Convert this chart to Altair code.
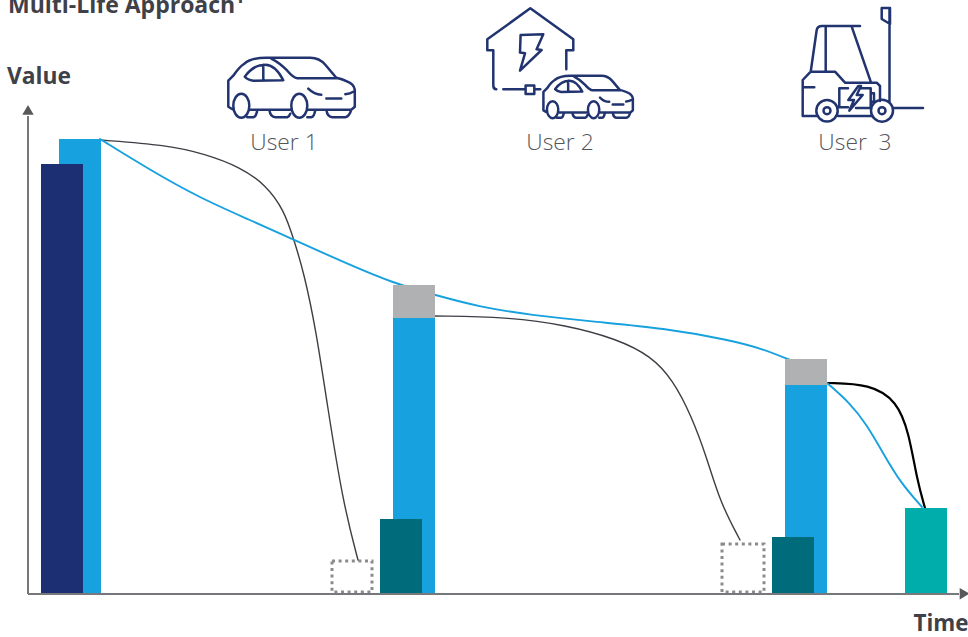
import altair as alt
import pandas as pd

W, H = 968, 637

# Bars: left, right, top and bottom edges on the chart's value/time scales
bar_names = ["new", "start", "user2 total", "user2 top", "user2 residual",
             "user3 total", "user3 top", "user3 residual", "end of life"]
bar_x0 = [59, 41, 393, 393, 380, 785, 785, 772, 905]
bar_x1 = [101, 83, 435, 435, 422, 827, 827, 814, 947]
bar_y0 = [139, 164, 318, 285, 519, 385, 359, 537, 508]
bar_y1 = [594, 594, 594, 318, 594, 594, 385, 594, 594]
bar_fill = ["#17a1de", "#1c2f72", "#17a1de", "#b0b1b3", "#006b7a",
            "#17a1de", "#b0b1b3", "#006b7a", "#00adab"]

# Dotted placeholder boxes
box_x0 = [332, 722]
box_x1 = [372, 764]
box_y0 = [561, 544]
box_y1 = [592, 592]

# Multi-life value curve
blue_x = [100, 150, 200, 250, 292, 350, 393, 435, 480, 530, 597, 663, 730, 763, 790]
blue_y = [139, 170, 198, 220, 239, 265, 283, 295, 307, 315, 322, 328, 340, 349, 360]
blue_end_x = [827, 850, 867, 883, 900, 922]
blue_end_y = [383, 403, 425, 453, 482, 507]

# Single-use value curves
first_x = [100, 167, 205, 240, 266, 284, 294, 304, 316, 327, 343, 358]
first_y = [140, 145, 154, 167, 185, 210, 240, 273, 330, 403, 503, 560]
second_x = [435, 507, 566, 617, 651, 673, 691, 707, 720, 740]
second_y = [316, 317, 325, 339, 356, 380, 415, 458, 502, 540]
third_x = [827, 870, 897, 909, 917, 925]
third_y = [383, 384, 401, 433, 480, 508]

# Text labels
label_text = ["Multi-Life Approach¹", "Value", "Time"]
label_x = [8, 7, 913.5]
label_y = [13, 84, 631]
label_size = [23, 22.8, 22.4]
user_text = ["User 1", "User 2", "User\u00a0\u00a03"]
user_x = [284, 560, 855]
user_y = [150, 150, 150]

# Outline glyphs, drawn as symbol paths in a local unit system
CAR = (
    "M6 53 L1 50 L1 24 L6 19 Q12 10 17 7 Q24 1 39 1 L83 1 Q92 1 98 8 L109 21 "
    "Q121 24 125 28 Q127 30 127.5 33 L127.5 50 L124 53 "
    "M22 53 L63 53 M81 53 L124 53 "
    "M6 49 A8 12 0 1 0 22 49 A8 12 0 1 0 6 49 Z "
    "M64 49 A8 12 0 1 0 80 49 A8 12 0 1 0 64 49 Z "
    "M20 60.5 L26 60.5 Q29 60 30 53 "
    "M42 53 Q43 60.5 48 60.5 L60 60.5 Q62 60 63 57 "
    "M80 60.5 L84 60.5 Q87 60 88 53 "
    "M99 53 Q100 60.5 105 60.5 L118 60.5 Q122 60 124 53 "
    "M17.5 20 Q26 8 38 8 Q48 8 56 23.5 L26 24 Q20 23 17.5 20 Z M36 8 L36 24 "
    "M44 2 Q52 6 60 14 Q66 21 70 21.5 L109 21.5 "
    "M81 32 Q87 38 94 38 M99 41.7 L114 41.7 M118 37.5 Q123 37 126 35"
)
HOUSE = (
    "M0 42 L0 31 L43 0 L86 31 L86 42 L79 42 L79 61 "
    "M0 42 L6 42 L6 77 Q6 81 9 81 M16 81 L38 81 "
    "M38.3 77.3 H47 V85.7 H38.3 Z M47 81 L53 81 "
    "M33.3 26.7 L56 26 L49.3 41 L54.3 41.7 L32.7 62.3 L37.7 45 L32.7 44.3 Z"
)
FORKLIFT = (
    "M101.7 8 H110 V24 L101.7 19 Z M109.5 8 V103 M113 108 H143 "
    "M30.7 71.7 L36.7 30 Q37.5 26 42 26 L80 26 M45.7 26 V71.7 M71.7 26.7 L90.7 81.7 "
    "M22.7 116 V80 L30.7 71.7 H55 L65 82.7 H96.7 L100 86 V101 "
    "M22.7 116 H36 M58.3 116 H91.7 M22.7 87.3 H34.3 "
    "M36.3 110.7 A10.7 10.7 0 1 0 57.7 110.7 A10.7 10.7 0 1 0 36.3 110.7 Z "
    "M43.5 110.7 A3.5 3.5 0 1 0 50.5 110.7 A3.5 3.5 0 1 0 43.5 110.7 Z "
    "M91 110.7 A11 11 0 1 0 113 110.7 A11 11 0 1 0 91 110.7 Z "
    "M98.5 110.7 A3.5 3.5 0 1 0 105.5 110.7 A3.5 3.5 0 1 0 98.5 110.7 Z "
    "M68 88.3 H59.3 V107.3 H68 M81.7 88.3 H90.7 V108 H76 M90.7 93.3 H94 V101.7 H90.7 "
    "M78.3 86 L68.3 100 L74 100 L69.3 110.7 L82.7 95 L76.7 95 L81 86 Z"
)
icon_path = [CAR, HOUSE, CAR, FORKLIFT]
icon_x = [227.3, 487.3, 542.7, 780]
icon_y = [56.7, 8.3, 75, 0]
icon_size = [4, 4, 2, 4]

x_scale = alt.Scale(domain=[0, W], nice=False, zero=False)
y_scale = alt.Scale(domain=[H, 0], nice=False, zero=False)
X = alt.X("x:Q", scale=x_scale, axis=None)
Y = alt.Y("y:Q", scale=y_scale, axis=None)


def curve(xs, ys, color, width):
    frame = pd.DataFrame({"x": xs, "y": ys})
    return alt.Chart(frame).mark_line(
        color=color, strokeWidth=width, interpolate="basis", strokeCap="round"
    ).encode(x=X, y=Y)


# Axis shafts and arrow heads
x_axis = alt.Chart(pd.DataFrame({"x": [28], "x2": [959], "y": [594]})).mark_rule(
    color="#77787b", strokeWidth=2
).encode(x=X, x2="x2:Q", y=Y)
y_axis = alt.Chart(pd.DataFrame({"x": [28], "y": [594], "y2": [116]})).mark_rule(
    color="#77787b", strokeWidth=2
).encode(x=X, y=Y, y2="y2:Q")
arrow_frame = pd.DataFrame({"x": [963, 28], "y": [593.7, 111.5],
                            "angle": [90, 0]})
arrows = alt.Chart(arrow_frame).mark_point(
    shape="triangle", filled=True, color="#58595b", opacity=1, size=130
).encode(x=X, y=Y, angle=alt.Angle("angle:Q", scale=None))

boxes = alt.Chart(pd.DataFrame({"x": box_x0, "x2": box_x1, "y": box_y0, "y2": box_y1})).mark_rect(
    fillOpacity=0, stroke="#8a8b8d", strokeWidth=3, strokeDash=[3, 3.6]
).encode(x=X, x2="x2:Q", y=Y, y2="y2:Q")

bars = alt.Chart(pd.DataFrame({
    "name": bar_names, "x": bar_x0, "x2": bar_x1, "y": bar_y0, "y2": bar_y1,
    "fill": bar_fill, "order": list(range(len(bar_names))),
})).mark_rect().encode(
    x=X, x2="x2:Q", y=Y, y2="y2:Q",
    fill=alt.Fill("fill:N", scale=None),
    order=alt.Order("order:Q"),
)

heading_labels = alt.Chart(pd.DataFrame({
    "text": label_text, "x": label_x, "y": label_y, "size": label_size,
})).mark_text(
    font="Open Sans", fontWeight="bold", align="left", baseline="alphabetic",
    color="#3f4148",
).encode(x=X, y=Y, text="text:N", size=alt.Size("size:Q", scale=None))

user_labels = alt.Chart(pd.DataFrame({"text": user_text, "x": user_x, "y": user_y})).mark_text(
    font="Open Sans", fontWeight=300, fontSize=22.8, align="center", baseline="alphabetic",
    color="#55565a",
).encode(x=X, y=Y, text="text:N")

icons = alt.layer(*[
    alt.Chart(pd.DataFrame({"x": [ix], "y": [iy]})).mark_point(
        shape=path, size=size, filled=False, opacity=1, color="#22346f",
        strokeWidth=2.5, strokeCap="round", strokeJoin="round",
    ).encode(x=X, y=Y)
    for path, ix, iy, size in zip(icon_path, icon_x, icon_y, icon_size)
])

chart = alt.layer(
    boxes,
    curve(first_x, first_y, "#3d3f45", 1.4),
    curve(second_x, second_y, "#3d3f45", 1.4),
    curve(third_x, third_y, "#000000", 2.2),
    curve(blue_x, blue_y, "#17a1de", 1.9),
    curve(blue_end_x, blue_end_y, "#17a1de", 1.9),
    bars,
    x_axis, y_axis, arrows,
    heading_labels, user_labels,
    icons,
).properties(
    width=W, height=H, background="white", padding=0,
    autosize=alt.AutoSizeParams(type="none"),
).configure_view(stroke=None)

chart.save("out.html", embed_options={"renderer": "svg", "actions": False})
